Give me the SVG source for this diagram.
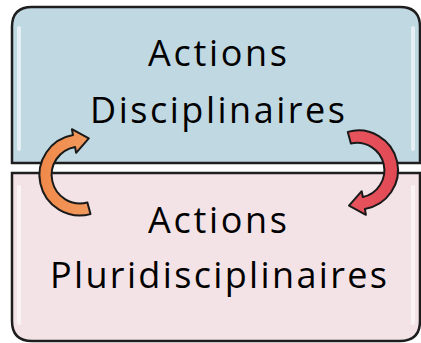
<svg xmlns="http://www.w3.org/2000/svg" width="421" height="343" viewBox="0 0 421 343">
<style>
.box{stroke:#1e1e1e;stroke-width:2.5}
.lbl{font-family:"Open Sans","DejaVu Sans",sans-serif;font-size:36px;fill:#000;text-anchor:middle}
.hl{fill:#fff;opacity:0.6}
.arr{stroke:#1a1a1a;stroke-width:2;stroke-linejoin:round}
</style>
<defs>
<linearGradient id="gOr" x1="0" y1="0" x2="1" y2="0">
<stop offset="0" stop-color="#f0894a"/><stop offset="1" stop-color="#f29a5e"/>
</linearGradient>
<linearGradient id="gRd" x1="0" y1="0" x2="1" y2="0">
<stop offset="0" stop-color="#e8545e"/><stop offset="1" stop-color="#e04a55"/>
</linearGradient>
</defs>
<rect width="421" height="343" fill="#fff"/>
<g id="top">
<path class="box" fill="#c0d8e2" d="M12 163 L12 27 Q12 7 32 7 L400 7 Q420 7 420 27 L420 163 Z"/>
<rect class="hl" x="17" y="26" width="4" height="125" rx="2"/>
<rect class="hl" x="411" y="26" width="4" height="125" rx="2"/>
<text class="lbl" x="217.5" y="66" textLength="139" lengthAdjust="spacing">Actions</text>
<text class="lbl" x="217.5" y="122.5" textLength="255" lengthAdjust="spacing">Disciplinaires</text>
</g>
<g id="bottom">
<path class="box" fill="#f3e3e6" d="M12 173 L420 173 L420 321 Q420 341 400 341 L32 341 Q12 341 12 321 Z"/>
<rect class="hl" x="17" y="185" width="4" height="140" rx="2"/>
<rect class="hl" x="411" y="185" width="4" height="140" rx="2"/>
<text class="lbl" x="217.5" y="233" textLength="139" lengthAdjust="spacing">Actions</text>
<text class="lbl" x="218.5" y="288" textLength="337" lengthAdjust="spacing">Pluridisciplinaires</text>
</g>
<g id="connectors">
<path class="arr" fill="url(#gOr)" d="M90.5 214.1 A40.5 40.5 0 1 1 73 135.1 L71.9 129.2 L88.8 138.4 L76.1 152.8 L75.05 146.9 A28.5 28.5 0 1 0 87.4 202.5 Z"/>
<path class="arr" fill="url(#gRd)" d="M347.8 131.9 A39.5 39.5 0 1 1 364.9 208.9 L365.9 214.8 L349 205.6 L361.7 191.2 L362.8 197.1 A27.5 27.5 0 1 0 350.9 143.4 Z"/>
</g>
</svg>
